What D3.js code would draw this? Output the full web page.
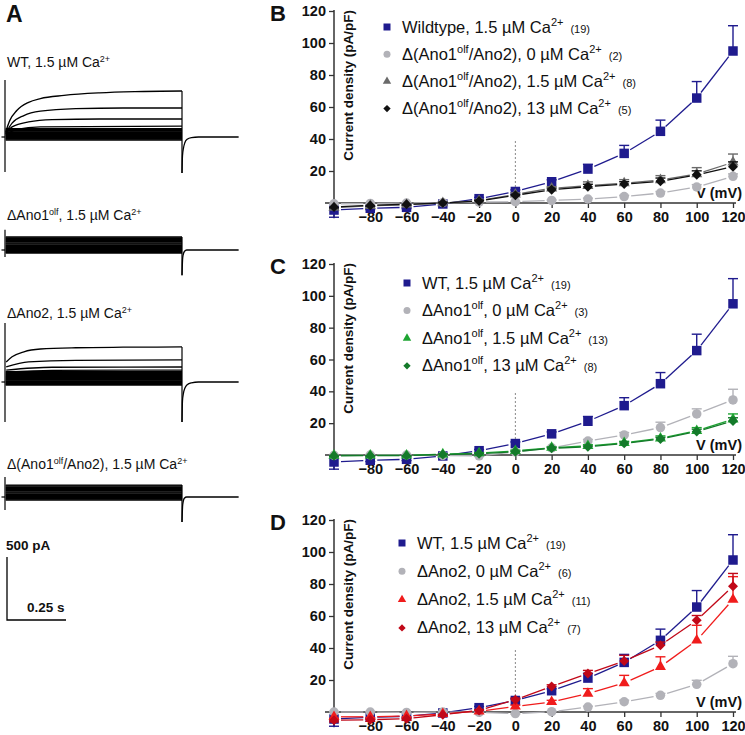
<!DOCTYPE html>
<html><head><meta charset="utf-8">
<script src="https://cdn.jsdelivr.net/npm/d3@7"></script>
<style>body{margin:0;background:#fff} svg{display:block} text{font-family:"Liberation Sans",Arial,sans-serif;fill:#111}</style>
</head><body>
<svg id="c" width="745" height="735"></svg>
<script>
// ---------- DATA: I-V curves ----------
const voltages=[-100,-80,-60,-40,-20,0,20,40,60,80,100,120];
const xTicks=[-80,-60,-40,-20,0,20,40,60,80,100,120];
const yTicks=[20,40,60,80,100,120];

const wtMean=[-4.4,-3.3,-2.7,-0.6,2.7,7.2,13.3,21.2,31,44.8,65.6,95];
const wtErr=[4.5,0.8,0.8,0.5,0.8,1,1.2,3,5,7,10.3,15.8];

// Panel B: Δ(Ano1olf/Ano2)
const dkoCa0=[-0.5,-0.3,0,0.2,0.6,0.8,1.6,2.5,4,6.2,10,16.7];
const dkoCa0Err=[0.3,0.3,0.3,0.3,0.3,0.3,0.3,0.5,0.8,1,1.5,1.5];
const dkoCa15=[-2.9,-1.7,-1,0,1.5,5.4,9.2,10.8,12.4,14.4,18.1,25.4];
const dkoCa15Err=[1,0.5,0.5,0.5,0.5,1,1,2.4,2.2,2.7,4,5.2];
const dkoCa13=[-2.5,-1.5,-0.8,0,1.2,4.8,8.3,10.2,11.8,13.6,17.6,22.7];
const dkoCa13Err=[0.5,0.5,0.5,0.5,0.5,0.5,1,1.5,1.5,2,2.5,3];

// Panel C: ΔAno1olf
const ano1Ca0=[-0.2,0,0,-0.3,-0.5,2,4.5,8.8,12.6,17.2,25.8,34.6];
const ano1Ca0Err=[0.3,0.3,0.3,0.3,0.3,0.5,0.8,1,1.5,3.4,3.2,6.7];
const ano1Ca15=[-0.3,-0.2,-0.2,0.5,1.2,2.6,4.6,5.7,7.6,10.5,15.2,22.4];
const ano1Ca15Err=[0.3,0.3,0.3,0.3,0.3,0.5,0.5,0.8,1,1.5,2,3.4];
const ano1Ca13=[-0.5,-0.4,-0.4,0.3,0.8,2.1,4.2,5.2,7.3,10.1,14.7,21.4];
const ano1Ca13Err=[0.3,0.3,0.3,0.3,0.3,0.3,0.5,0.5,0.8,1,1.5,2];

// Panel D: ΔAno2
const ano2Ca0=[0,0,-0.3,0,-0.2,-1,0.2,3.1,6.4,10.4,17.3,30.2];
const ano2Ca0Err=[0.3,0.3,0.3,0.3,0.3,0.3,0.3,0.5,1,1.2,2.5,4.6];
const ano2Ca15=[-3,-3,-2.5,-1.2,0.5,3.5,6.3,11.5,18.1,28.3,44.8,70.3];
const ano2Ca15Err=[1,0.5,0.5,0.5,0.5,0.8,1,3.1,4.8,6.2,9.4,14.3];
const ano2Ca13=[-5.2,-4.8,-4.2,-1.7,1,7.7,16,24,31.9,41.7,57.3,78.6];
const ano2Ca13Err=[1,1,1,0.5,0.5,1,1,2,3.5,2,3,8];

const legendB=["Wildtype, 1.5 µM Ca^{2+}_{(19)}","Δ(Ano1^{olf}/Ano2), 0 µM Ca^{2+}_{(2)}","Δ(Ano1^{olf}/Ano2), 1.5 µM Ca^{2+}_{(8)}","Δ(Ano1^{olf}/Ano2), 13 µM Ca^{2+}_{(5)}"];
const legendC=["WT, 1.5 µM Ca^{2+}_{(19)}","ΔAno1^{olf}, 0 µM Ca^{2+}_{(3)}","ΔAno1^{olf}, 1.5 µM Ca^{2+}_{(13)}","ΔAno1^{olf}, 13 µM Ca^{2+}_{(8)}"];
const legendD=["WT, 1.5 µM Ca^{2+}_{(19)}","ΔAno2, 0 µM Ca^{2+}_{(6)}","ΔAno2, 1.5 µM Ca^{2+}_{(11)}","ΔAno2, 13 µM Ca^{2+}_{(7)}"];

// ---------- DATA: example current traces (time s, current pA) ----------
const wtRise=[
 [[0.003,40],[0.02,130],[0.05,210],[0.1,275],[0.15,305],[0.25,330],[0.4,350],[0.55,360],[0.75,365]],
 [[0.003,30],[0.03,110],[0.08,170],[0.15,205],[0.3,225],[0.5,230],[0.75,230]],
 [[0.003,25],[0.03,80],[0.1,120],[0.2,138],[0.4,143],[0.75,143]],
 [[0.003,20],[0.05,60],[0.15,80],[0.75,87]]];
const wtLevels=[67,60,52,46,40,34,28,22,16,12,8,2,-4,-10,-16,-24];
const wtOnset=[-278,452];
const wtTail=[[0.75,-285],[0.752,-150],[0.756,-90],[0.762,-45],[0.772,-18],[0.79,-5],[0.82,0],[0.99,0]];

const ano1Rise=[];
const ano1Levels=[103,97,90,83,76,69,62,55,48,41,34,27,20,13,6,0,-6,-12,-18,-24];
const ano1Onset=[-55,160];
const ano1Tail=[[0.75,-200],[0.753,-60],[0.76,-12],[0.77,0],[0.99,0]];

const ano2Rise=[
 [[0.005,159],[0.03,200],[0.08,240],[0.15,262],[0.3,272],[0.5,276],[0.75,278]],
 [[0.005,120],[0.1,160],[0.3,172],[0.75,175]],
 [[0.005,95],[0.2,117],[0.75,119]],
 [[0.005,80],[0.2,93],[0.75,95]]];
const ano2Levels=[82,74,66,58,50,43,36,29,22,15,8,2,-5,-12,-18,-24];
const ano2Onset=[-317,468];
const ano2Tail=[[0.75,-317],[0.752,-150],[0.756,-90],[0.762,-50],[0.772,-22],[0.79,-7],[0.82,0],[0.99,0]];

const dkoRise=[];
const dkoLevels=[95,88,81,74,67,60,53,46,39,32,25,18,11,4,-3,-10,-17,-24];
const dkoOnset=[-103,159];
const dkoTail=[[0.75,-198],[0.753,-60],[0.76,-10],[0.77,0],[0.99,0]];

const traceTitles=["WT, 1.5 µM Ca^{2+}","ΔAno1^{olf}, 1.5 µM Ca^{2+}","ΔAno2, 1.5 µM Ca^{2+}","Δ(Ano1^{olf}/Ano2), 1.5 µM Ca^{2+}"];

// ---------- STYLE ----------
const navy="#1f1b8e", lgray="#b2b2b8", dgray="#6a6a6a", black="#111111",
      green="#1ea532", dgreen="#147a2a", red="#f01c1c", dred="#c10818";

const svg=d3.select("#c");

function rich(textSel, str, o){
  const tokens=str.split(/(\^\{[^}]*\}|_\{[^}]*\})/).filter(s=>s.length);
  let cur=0;
  tokens.forEach(tok=>{
    const ts=textSel.append("tspan");
    if(tok.startsWith("^{")){
      ts.text(tok.slice(2,-1)).attr("font-size",o.sup).attr("dy",(-o.supDy-cur)); cur=-o.supDy;
    } else if(tok.startsWith("_{")){
      ts.text(tok.slice(2,-1)).attr("font-size",o.small).attr("dy",-cur).attr("dx",o.smallDx); cur=0;
    } else {
      ts.text(tok).attr("dy",-cur); cur=0;
    }
  });
}

function symPath(shape, s){
  if(shape==="square") return d3.symbol(d3.symbolSquare, s*s)();
  if(shape==="circle") return d3.symbol(d3.symbolCircle, Math.PI*s*s/4)();
  if(shape==="triangle") return d3.symbol(d3.symbolTriangle, s*s*0.48)();
  return d3.symbol(d3.symbolSquare, s*s*0.55)();
}

const x=d3.scaleLinear().domain([-100,120]).range([334,733]);

function panel(cfg){
  const y=d3.scaleLinear().domain([0,120]).range([cfg.y0,cfg.y120]);
  const g=svg.append("g");
  g.append("text").attr("x",270).attr("y",cfg.y120+9.5).attr("font-size",22).attr("font-weight","bold").text(cfg.letter);
  const xa=g.append("g").attr("transform",`translate(0,${cfg.y0})`)
    .call(d3.axisBottom(x).tickValues(xTicks).tickSize(5).tickPadding(4).tickFormat(d3.format("d")));
  xa.select(".domain").remove();
  xa.selectAll(".tick line").attr("stroke","#333").attr("stroke-width",1.3);
  xa.selectAll(".tick text").attr("font-size",14.5).attr("font-weight","bold").attr("font-family","Liberation Sans, Arial").attr("fill","#111");
  g.append("line").attr("x1",325).attr("x2",736).attr("y1",cfg.y0).attr("y2",cfg.y0).attr("stroke","#333").attr("stroke-width",1.5);
  const ya=g.append("g").attr("transform",`translate(${x(-100)},0)`)
    .call(d3.axisLeft(y).tickValues(yTicks).tickSize(5).tickPadding(3));
  ya.select(".domain").remove();
  ya.selectAll(".tick line").attr("stroke","#333").attr("stroke-width",1.3);
  ya.selectAll(".tick text").attr("font-size",14.5).attr("font-weight","bold").attr("font-family","Liberation Sans, Arial").attr("fill","#111");
  g.append("line").attr("x1",x(-100)).attr("x2",x(-100)).attr("y1",y(120)-1).attr("y2",y(-9.5)).attr("stroke","#333").attr("stroke-width",1.5);
  g.append("line").attr("x1",x(0)).attr("x2",x(0)).attr("y1",y(0)).attr("y2",y(40)).attr("stroke","#888").attr("stroke-width",1).attr("stroke-dasharray","2,2");
  g.append("text").attr("transform",`translate(353,${y(120)-1}) rotate(-90)`).attr("text-anchor","end")
    .attr("font-size",13.5).attr("font-weight","bold").text("Current density (pA/pF)");
  g.append("text").attr("x",742).attr("y",cfg.y0-5).attr("text-anchor","end").attr("font-size",14.5).attr("font-weight","bold").text("V (mV)");
  const gap=7;
  cfg.series.forEach(s=>{
    const pts=voltages.map((v,i)=>[x(v),y(s.mean[i])]);
    for(let i=0;i<pts.length-1;i++){
      const [x1,y1]=pts[i],[x2,y2]=pts[i+1];
      const L=Math.hypot(x2-x1,y2-y1); if(L<2*gap+1) continue;
      const ux=(x2-x1)/L, uy=(y2-y1)/L;
      g.append("line").attr("x1",x1+ux*gap).attr("y1",y1+uy*gap).attr("x2",x2-ux*gap).attr("y2",y2-uy*gap)
        .attr("stroke",s.color).attr("stroke-width",1.3);
    }
  });
  cfg.series.forEach(s=>{
    voltages.forEach((v,i)=>{
      const m=s.mean[i], e=s.err[i]; const sgn=m<0?-1:1;
      const ye=y(m+sgn*e);
      g.append("line").attr("x1",x(v)).attr("x2",x(v)).attr("y1",y(m)).attr("y2",ye).attr("stroke",s.color).attr("stroke-width",1.4);
      g.append("line").attr("x1",x(v)-5).attr("x2",x(v)+5).attr("y1",ye).attr("y2",ye).attr("stroke",s.color).attr("stroke-width",1.4);
    });
    voltages.forEach((v,i)=>{
      g.append("path").attr("d",symPath(s.shape,s.shape==="triangle"?10.5:9.5))
        .attr("transform",`translate(${x(v)},${y(s.mean[i])})`+(s.shape==="diamond"?" rotate(45)":""))
        .attr("fill",s.color);
    });
  });
  cfg.series.forEach((s,i)=>{
    const ly=cfg.legY+i*cfg.legDy;
    g.append("path").attr("d",symPath(s.shape,s.shape==="triangle"?8:7))
      .attr("transform",`translate(${cfg.legX},${ly})`+(s.shape==="diamond"?" rotate(45)":"")).attr("fill",s.color);
    const t=g.append("text").attr("x",cfg.legX+15).attr("y",ly+5.5).attr("font-size",16.5);
    rich(t,cfg.legend[i],{sup:11,supDy:7,small:11,smallDx:7});
  });
}

panel({letter:"B",y0:203,y120:11,legX:387,legY:27,legDy:27.2,legend:legendB,series:[
  {mean:wtMean,err:wtErr,color:navy,shape:"square"},
  {mean:dkoCa0,err:dkoCa0Err,color:lgray,shape:"circle"},
  {mean:dkoCa15,err:dkoCa15Err,color:dgray,shape:"triangle"},
  {mean:dkoCa13,err:dkoCa13Err,color:black,shape:"diamond"}]});
panel({letter:"C",y0:455,y120:264,legX:407,legY:283,legDy:27.6,legend:legendC,series:[
  {mean:wtMean,err:wtErr,color:navy,shape:"square"},
  {mean:ano1Ca0,err:ano1Ca0Err,color:lgray,shape:"circle"},
  {mean:ano1Ca15,err:ano1Ca15Err,color:green,shape:"triangle"},
  {mean:ano1Ca13,err:ano1Ca13Err,color:dgreen,shape:"diamond"}]});
panel({letter:"D",y0:712,y120:520,legX:402,legY:543,legDy:28.3,legend:legendD,series:[
  {mean:wtMean,err:wtErr,color:navy,shape:"square"},
  {mean:ano2Ca0,err:ano2Ca0Err,color:lgray,shape:"circle"},
  {mean:ano2Ca15,err:ano2Ca15Err,color:red,shape:"triangle"},
  {mean:ano2Ca13,err:ano2Ca13Err,color:dred,shape:"diamond"}]});

// ---------- Panel A ----------
svg.append("text").attr("x",6).attr("y",22).attr("font-size",23).attr("font-weight","bold").text("A");
const tx=d3.scaleLinear().domain([0,1]).range([5,241]);
const pxPerPA=63/500;
const line=d3.line();
function recording(title, titleY, baseY, rise, levels, onset, tail){
  const yI=d3.scaleLinear().domain([0,500]).range([baseY,baseY-500*pxPerPA]);
  const t=svg.append("text").attr("x",7).attr("y",titleY).attr("font-size",14);
  rich(t,title,{sup:9,supDy:5.5,small:8,smallDx:0});
  const g=svg.append("g").attr("fill","none").attr("stroke","#000");
  g.append("path").attr("d",line([[tx(-0.015),yI(0)],[tx(0),yI(0)]])).attr("stroke-width",1.2);
  levels.forEach(v=>{
    g.append("path").attr("d",line([[tx(0.003),yI(v)],[tx(0.75),yI(v)]])).attr("stroke-width",1.3);
  });
  rise.forEach(tr=>{
    g.append("path").attr("d",d3.line().curve(d3.curveMonotoneX)(tr.map(p=>[tx(p[0]),yI(p[1])]))).attr("stroke-width",1.3);
  });
  g.append("path").attr("d",line([[tx(0),yI(onset[0])],[tx(0),yI(onset[1])]])).attr("stroke-width",1.2);
  const topV=d3.max([...levels,...rise.map(r=>r[r.length-1][1])]);
  g.append("path").attr("d",line([[tx(0.75),yI(topV)],[tx(0.75),yI(tail[0][1])]])).attr("stroke-width",1.2);
  g.append("path").attr("d",d3.line().curve(d3.curveMonotoneX)(tail.map(p=>[tx(p[0]),yI(p[1])]))).attr("stroke-width",1.3);
}
recording(traceTitles[0],67,137,wtRise,wtLevels,wtOnset,wtTail);
recording(traceTitles[1],220,250,ano1Rise,ano1Levels,ano1Onset,ano1Tail);
recording(traceTitles[2],318,382,ano2Rise,ano2Levels,ano2Onset,ano2Tail);
recording(traceTitles[3],469,497,dkoRise,dkoLevels,dkoOnset,dkoTail);

const sb=svg.append("g").attr("stroke","#000").attr("stroke-width",1.3).attr("fill","none");
const sbX=7, sbY=620;
sb.append("path").attr("d",line([[sbX,sbY-500*pxPerPA],[sbX,sbY],[sbX+tx(0.25)-tx(0),sbY]]));
svg.append("text").attr("x",6).attr("y",550).attr("font-size",13.5).attr("font-weight","bold").text("500 pA");
svg.append("text").attr("x",27).attr("y",612).attr("font-size",13.5).attr("font-weight","bold").text("0.25 s");
</script>
</body></html>
